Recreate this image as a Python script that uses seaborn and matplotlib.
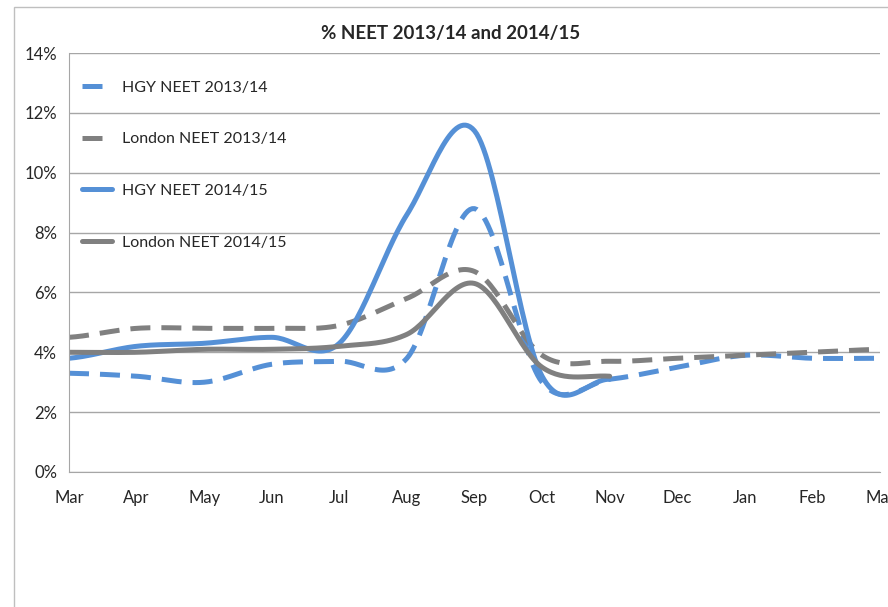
import numpy as np
import pandas as pd
import seaborn as sns
import matplotlib
matplotlib.use("Agg")
from matplotlib import pyplot as plt
from matplotlib.patches import Rectangle

months = ["Mar", "Apr", "May", "Jun", "Jul", "Aug", "Sep", "Oct", "Nov", "Dec", "Jan", "Feb", "Mar"]

hgy_1314 = [3.3, 3.2, 3.0, 3.6, 3.7, 3.8, 8.8, 3.0, 3.1, 3.5, 3.9, 3.8, 3.8]
london_1314 = [4.5, 4.8, 4.8, 4.8, 4.9, 5.8, 6.7, 3.9, 3.7, 3.8, 3.9, 4.0, 4.1]
hgy_1415 = [3.8, 4.2, 4.3, 4.5, 4.3, 8.6, 11.4, 3.2, 3.1]
london_1415 = [4.0, 4.0, 4.1, 4.1, 4.2, 4.6, 6.3, 3.5, 3.2]

series_names = ["HGY NEET 2013/14", "London NEET 2013/14", "HGY NEET 2014/15", "London NEET 2014/15"]
series_values = [hgy_1314, london_1314, hgy_1415, london_1415]

BLUE = "#5590d6"
GREY = "#808080"


def smooth(vals, n=30):
    """Excel-like smoothed line (Catmull-Rom through the monthly points)."""
    y = np.asarray(vals, dtype=float)
    x = np.arange(len(y), dtype=float)
    xs, ys = [], []
    for i in range(len(y) - 1):
        p0 = y[i - 1] if i > 0 else y[i]
        p3 = y[i + 2] if i + 2 < len(y) else y[i + 1]
        p1, p2 = y[i], y[i + 1]
        t = np.linspace(0, 1, n, endpoint=False)
        m1 = (p2 - p0) / 2
        m2 = (p3 - p1) / 2
        h00 = 2 * t**3 - 3 * t**2 + 1
        h10 = t**3 - 2 * t**2 + t
        h01 = -2 * t**3 + 3 * t**2
        h11 = t**3 - t**2
        ys.append(h00 * p1 + h10 * m1 + h01 * p2 + h11 * m2)
        xs.append(x[i] + t)
    xs.append([x[-1]])
    ys.append([y[-1]])
    return np.concatenate(xs), np.concatenate(ys)


frames = []
for name, vals in zip(series_names, series_values):
    sx, sy = smooth(vals)
    frames.append(pd.DataFrame({"month": sx, "pct": sy, "series": name}))
df = pd.concat(frames, ignore_index=True)

sns.set_style("white")
plt.rcParams["font.family"] = ["Lato", "DejaVu Sans"]

fig = plt.figure(figsize=(8.88, 6.07), dpi=100)
ax = fig.add_axes([69 / 888, 1 - 472 / 607, (880 - 69) / 888, (472 - 53) / 607])

# outer chart border
fig.patches.append(Rectangle((14 / 888, -0.01), 1.0, 1 - 7 / 607 + 0.01, transform=fig.transFigure,
                             fill=False, edgecolor="#bfbfbf", linewidth=1.0, zorder=0))

palette = {series_names[0]: BLUE, series_names[1]: GREY, series_names[2]: BLUE, series_names[3]: GREY}
dashes = {series_names[0]: (4, 2.2), series_names[1]: (4, 2.2), series_names[2]: "", series_names[3]: ""}

sns.lineplot(data=df, x="month", y="pct", hue="series", style="series", hue_order=series_names,
             style_order=series_names, palette=palette, dashes=dashes, linewidth=3.6, sort=False,
             estimator=None, ax=ax)

ax.set_xlim(0, 12)
ax.set_ylim(0, 14)
ax.set_yticks(np.arange(0, 15, 2))
ax.set_yticklabels([f"{v}%" for v in range(0, 15, 2)])
ax.set_xticks(range(len(months)))
ax.set_xticklabels(months)
ax.set_xlabel("")
ax.set_ylabel("")
ax.grid(axis="y", color="#a6a6a6", linewidth=1.0)
ax.set_axisbelow(True)
for side in ["top", "right"]:
    ax.spines[side].set_visible(False)
for side in ["left", "bottom"]:
    ax.spines[side].set_color("#a6a6a6")
ax.tick_params(axis="both", length=5, color="#a6a6a6", labelsize=12, labelcolor="#262626")
ax.tick_params(axis="x", pad=8)

ax.set_title("% NEET 2013/14 and 2014/15", fontsize=13.5, fontweight="bold", pad=10, x=0.47)

leg = ax.legend(loc="upper left", bbox_to_anchor=(0.0, 0.965), frameon=False, fontsize=11.5,
                labelspacing=2.35, handlelength=1.9, handletextpad=0.6, borderpad=0.3)
for line in leg.get_lines():
    line.set_linewidth(3.6)
for t in leg.get_texts():
    t.set_color("#262626")

fig.savefig("out.png", dpi=100, facecolor="white")
